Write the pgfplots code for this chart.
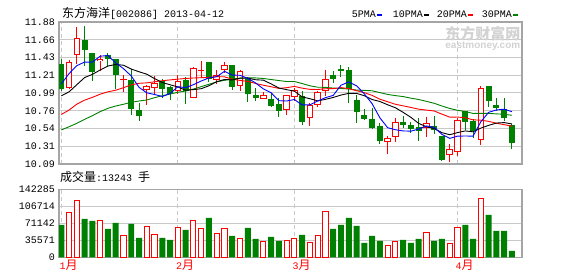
\documentclass[border=0pt]{standalone}
\usepackage{fontspec}
\usepackage{pgfplots}
\usepackage{pgfplotstable}
\pgfplotsset{compat=1.18}
\setmainfont{Liberation Mono}
\newfontfamily\cjk{Noto Sans CJK SC}
\newfontfamily\wmsans{Liberation Sans}
\definecolor{upred}{RGB}{255,0,0}
\definecolor{dngreen}{RGB}{0,128,0}
\definecolor{framegray}{RGB}{165,165,165}
\definecolor{gridgray}{RGB}{200,200,200}
\definecolor{dashgray}{RGB}{200,200,200}
\definecolor{wmgray}{RGB}{210,210,210}

% up (red) candles: index open high low close volume
\pgfplotstableread{
i o h l c v
1 11.05 11.397 11.04 11.38 94160
2 11.464 11.817 11.354 11.675 119270
5 11.385 11.46 11.266 11.414 77420
8 11.155 11.208 11.0 11.165 46030
11 11.019 11.08 10.83 11.069 64865
12 11.048 11.196 10.972 11.111 48125
15 11.014 11.208 10.97 11.132 62770
17 10.926 11.309 10.92 11.30 77420
18 11.26 11.385 11.174 11.27 60680
20 11.153 11.279 11.098 11.216 50220
21 11.279 11.376 11.237 11.338 60680
23 11.069 11.279 11.014 11.258 39755
26 10.913 11.0 10.913 10.96 32085
29 10.775 10.96 10.704 10.956 35570
30 10.93 11.048 10.88 11.019 39755
32 10.666 10.859 10.565 10.83 29990
33 10.83 11.014 10.805 10.994 46030
34 11.006 11.279 10.943 11.162 96250
42 10.364 10.439 10.216 10.414 25110
43 10.427 10.67 10.367 10.616 33480
47 10.548 10.686 10.434 10.61 50915
50 10.2 10.342 10.11 10.283 27900
51 10.237 10.67 10.187 10.648 62770
54 10.389 11.069 10.333 11.048 123450
}\up
% down (green) candles
\pgfplotstableread{
i o h l c v
0 11.35 11.414 11.014 11.04 67655
3 11.653 11.833 11.329 11.527 80210
4 11.485 11.49 11.132 11.246 76025
6 11.464 11.485 11.32 11.417 59285
7 11.41 11.41 11.03 11.216 71840
9 11.145 11.29 10.711 10.787 69750
10 10.771 10.859 10.636 10.699 40450
13 11.14 11.165 10.922 11.039 40450
14 11.061 11.077 10.9 10.972 36270
16 11.149 11.183 10.85 11.006 57190
19 11.376 11.38 11.12 11.165 82300
22 11.338 11.34 11.027 11.064 44640
24 11.162 11.183 10.872 10.976 61380
25 10.96 11.048 10.88 10.926 38360
27 10.913 10.985 10.805 10.825 42545
28 10.846 10.922 10.679 10.754 34175
31 10.943 11.006 10.585 10.623 46730
35 11.212 11.258 11.111 11.165 59285
36 11.291 11.338 11.183 11.266 67655
37 11.279 11.309 10.859 11.04 82300
38 10.897 10.956 10.607 10.745 65560
39 10.708 10.787 10.64 10.661 29990
40 10.657 10.796 10.531 10.544 44640
41 10.573 10.607 10.342 10.376 34175
44 10.62 10.691 10.544 10.585 36270
45 10.582 10.623 10.477 10.531 29990
46 10.556 10.666 10.384 10.51 38360
48 10.569 10.70 10.464 10.519 34175
49 10.439 10.439 10.132 10.144 38360
52 10.754 10.754 10.522 10.62 67655
53 10.636 10.657 10.418 10.51 38360
55 11.073 11.073 10.805 10.88 88580
56 10.83 10.922 10.754 10.796 55100
57 10.787 10.922 10.636 10.67 55100
58 10.585 10.594 10.279 10.355 13243
}\down
% moving averages
\pgfplotstableread{
i m5 m10 m20 m30
0 11.10 10.95 10.715 10.519
1 11.23 11.00 10.77 10.56
2 11.33 11.09 10.845 10.603
3 11.375 11.18 10.895 10.653
4 11.374 11.22 10.93 10.699
5 11.449 11.275 10.97 10.75
6 11.457 11.325 11.00 10.792
7 11.365 11.345 11.02 10.821
8 11.292 11.335 11.052 10.843
9 11.200 11.287 11.088 10.868
10 11.057 11.253 11.107 10.884
11 10.987 11.222 11.113 10.897
12 10.966 11.166 11.126 10.926
13 10.941 11.117 11.14 10.951
14 10.978 11.089 11.15 10.972
15 11.065 11.061 11.16 10.994
16 11.052 11.020 11.168 11.01
17 11.090 11.028 11.174 11.035
18 11.136 11.039 11.178 11.065
19 11.175 11.076 11.182 11.095
20 11.191 11.128 11.191 11.125
21 11.258 11.155 11.189 11.145
22 11.211 11.150 11.158 11.162
23 11.208 11.172 11.144 11.172
24 11.170 11.173 11.131 11.176
25 11.112 11.152 11.106 11.175
26 11.037 11.147 11.083 11.168
27 10.989 11.100 11.064 11.155
28 10.888 11.048 11.043 11.142
29 10.884 11.027 11.052 11.130
30 10.903 11.008 11.068 11.130
31 10.835 10.936 11.046 11.104
32 10.836 10.913 11.031 11.076
33 10.884 10.886 11.029 11.058
34 10.926 10.905 11.039 11.056
35 10.955 10.929 11.040 11.047
36 11.083 10.959 11.053 11.042
37 11.125 10.981 11.040 11.036
38 11.076 10.980 11.014 11.022
39 10.975 10.951 10.989 11.018
40 10.851 10.903 10.955 11.013
41 10.673 10.878 10.907 10.990
42 10.548 10.837 10.875 10.967
43 10.522 10.799 10.843 10.952
44 10.507 10.741 10.823 10.940
45 10.504 10.678 10.803 10.920
46 10.531 10.602 10.781 10.903
47 10.570 10.559 10.770 10.880
48 10.551 10.537 10.758 10.855
49 10.463 10.485 10.718 10.821
50 10.413 10.459 10.681 10.790
51 10.441 10.486 10.682 10.767
52 10.443 10.507 10.672 10.752
53 10.441 10.496 10.647 10.727
54 10.622 10.542 10.642 10.729
55 10.741 10.577 10.628 10.728
56 10.771 10.606 10.604 10.722
57 10.781 10.612 10.586 10.717
58 10.750 10.595 10.566 10.704
}\ma

\pgfplotsset{
  kpanel/.style={
    scale only axis, width=463pt, anchor=south west,
    xmin=-0.3, xmax=59.3,
    axis line style={draw=framegray, line width=1.3pt},
    major tick length=0pt,
    xtick={0,15,30,51},
    xmajorgrids, ymajorgrids,
    x grid style={dashgray, line width=0.8pt, dash pattern=on 4pt off 3pt},
    y grid style={gridgray, line width=1pt},
    ticklabel style={font=\fontsize{10}{12}\selectfont},
    yticklabel style={anchor=east, inner sep=0pt, xshift=-4pt},
    scaled y ticks=false, scaled x ticks=false,
  },
  wick/.style={draw=none, mark=none, forget plot,
    error bars/.cd, y dir=minus, y explicit, error mark=none,
    error bar style={draw=#1, line width=1pt, solid}},
  body/.style 2 args={draw=none, mark=none, forget plot,
    error bars/.cd, y dir=minus, y explicit, error mark=none,
    error bar style={draw=#1, line width=#2, solid}},
}

\begin{document}
\begin{tikzpicture}
\path[use as bounding box] (0,0) rectangle (578pt,276pt);

% price panel
\begin{axis}[kpanel, at={(59pt,112pt)}, height=142pt,
  ymin=10.09, ymax=11.88,
  ytick={10.09,10.31375,10.5375,10.76125,10.985,11.20875,11.4325,11.65625,11.88},
  yticklabels={10.09,10.31,10.54,10.76,10.99,11.21,11.43,11.66,11.88},
  xticklabels={,,,}]
% watermark
\node[text=wmgray, anchor=west, font=\cjk\bfseries\fontsize{15}{16}\selectfont] at (rel axis cs:0.827,0.915) {东方财富网};
\node[text=wmgray, anchor=west, font=\wmsans\bfseries\fontsize{10}{11}\selectfont] at (rel axis cs:0.827,0.83) {eastmoney.com};
% down candles
\addplot[wick=dngreen] table[x=i, y=h, y error expr=\thisrow{h}-\thisrow{l}] {\down};
\addplot[body={dngreen}{6pt}] table[x=i, y=o, y error expr=\thisrow{o}-\thisrow{c}] {\down};
% up candles
\addplot[wick=upred] table[x=i, y=h, y error expr=\thisrow{h}-\thisrow{l}] {\up};
\addplot[body={upred}{6.6pt}] table[x=i, y=c, y error expr=\thisrow{c}-\thisrow{o}] {\up};
\addplot[body={white}{4.6pt}] table[x=i, y expr=\thisrow{c}-0.0126, y error expr={max(\thisrow{c}-\thisrow{o}-0.0252,0)}] {\up};
% moving averages
\addplot[dngreen, line width=0.9pt, mark=none] table[x=i, y=m30] {\ma};
\addplot[upred, line width=0.9pt, mark=none] table[x=i, y=m20] {\ma};
\addplot[black, line width=0.9pt, mark=none] table[x=i, y=m10] {\ma};
\addplot[blue, line width=0.9pt, mark=none] table[x=i, y=m5] {\ma};
\end{axis}

% volume panel
\begin{axis}[kpanel, at={(59pt,18.7pt)}, height=68pt,
  ymin=0, ymax=142285,
  ytick={0,35571,71142,106714,142285},
  yticklabels={0,35571,71142,106714,142285},
  xticklabels={1{\fontsize{12}{14}\cjk 月},2{\fontsize{12}{14}\cjk 月},3{\fontsize{12}{14}\cjk 月},4{\fontsize{12}{14}\cjk 月}},
  xticklabel style={anchor=north west, inner sep=0pt, xshift=-2pt, yshift=-3pt, text=upred}]
\addplot[ybar, bar width=0.77, bar shift=0pt, fill=dngreen, draw=none] table[x=i, y=v] {\down};
\addplot[ybar, bar width=0.66, bar shift=0pt, fill=white, draw=upred, line width=1pt] table[x=i, y=v] {\up};
\end{axis}

% titles and legend
\node[anchor=base west, inner sep=0pt, font=\fontsize{10}{12}\selectfont] at (62pt,258.5pt)
  {{\fontsize{12}{14}\cjk 东方海洋}[002086] 2013-04-12};
\node[anchor=base west, inner sep=0pt, font=\fontsize{10}{12}\selectfont] at (60pt,95pt)
  {{\fontsize{12}{14}\cjk 成交量}:13243 {\fontsize{12}{14}\cjk 手}};
\node[anchor=base west, inner sep=0pt, font=\fontsize{10}{12}\selectfont] at (351.7pt,258pt)
  {5PMA\hspace{1.3pt}\textcolor{blue}{\rule[1.7pt]{5pt}{2.7pt}}};
\node[anchor=base west, inner sep=0pt, font=\fontsize{10}{12}\selectfont] at (392.7pt,258pt)
  {10PMA\hspace{1.3pt}\textcolor{black}{\rule[1.7pt]{5pt}{2.7pt}}};
\node[anchor=base west, inner sep=0pt, font=\fontsize{10}{12}\selectfont] at (436.7pt,258pt)
  {20PMA\hspace{1.3pt}\textcolor{upred}{\rule[1.7pt]{5pt}{2.7pt}}};
\node[anchor=base west, inner sep=0pt, font=\fontsize{10}{12}\selectfont] at (481.7pt,258pt)
  {30PMA\hspace{1.3pt}\textcolor{dngreen}{\rule[1.7pt]{5pt}{2.7pt}}};
\end{tikzpicture}
\end{document}
